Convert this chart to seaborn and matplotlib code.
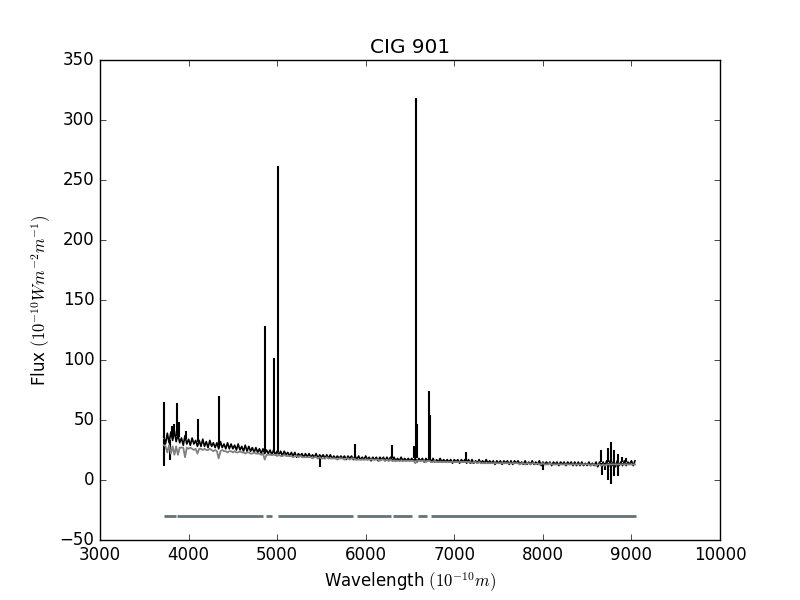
import matplotlib
matplotlib.use('Agg')

import matplotlib.pyplot as plt
import seaborn as sb
import numpy as np
import pandas as pd

# wavelength grid of the sampled spectrum (Angstrom, 20 A steps)
wave = list(range(3720, 9041, 20))

flux = [
    36, 30, 39, 31, 40, 33, 41, 32, 38, 31,
    35, 29, 37, 30, 34, 29, 35, 30, 33, 28,
    33, 28, 34, 28, 32, 27, 33, 28, 31, 27,
    31, 26, 32, 27, 30, 26, 31, 26, 30, 26,
    29, 25, 30, 25, 28, 24, 29, 24, 28, 24,
    27, 23, 27, 23, 26, 22, 26, 22, 25, 22,
    25, 21, 25, 21, 24, 21, 24, 20, 24, 21,
    23, 20, 23, 20, 23, 19, 22, 20, 22, 19,
    22, 19, 22, 19, 21, 19, 22, 18, 21, 19,
    21, 18, 21, 18, 21, 18, 20, 18, 20, 18,
    20, 18, 20, 17, 20, 18, 20, 17, 20, 17,
    20, 17, 19, 17, 20, 17, 19, 16, 19, 17,
    19, 16, 19, 17, 19, 16, 19, 16, 19, 16,
    19, 16, 18, 16, 19, 16, 18, 16, 18, 16,
    18, 16, 18, 15, 18, 16, 18, 15, 18, 16,
    18, 15, 18, 15, 17, 15, 18, 15, 17, 15,
    17, 15, 17, 14, 17, 15, 17, 14, 17, 15,
    17, 14, 17, 14, 17, 14, 16, 14, 17, 14,
    16, 14, 17, 14, 16, 14, 16, 13, 16, 14,
    16, 13, 16, 14, 16, 13, 16, 13, 16, 14,
    16, 13, 15, 13, 16, 13, 15, 13, 16, 13,
    15, 13, 16, 12, 15, 13, 15, 13, 15, 12,
    15, 13, 15, 12, 15, 13, 15, 12, 15, 13,
    15, 12, 15, 12, 15, 12, 15, 12, 14, 12,
    15, 12, 14, 12, 15, 11, 15, 12, 15, 11,
    16, 11, 16, 12, 16, 11, 16, 12, 15, 12,
    16, 12, 15, 13, 16, 12, 16,
]

# synthetic / model flux (gray)
model = [
    29, 28, 23, 29, 22, 28, 21, 28, 21, 27,
    27, 27, 19, 27, 26, 27, 26, 25, 26, 22,
    26, 26, 25, 26, 25, 25, 26, 25, 24, 25,
    24, 18, 24, 25, 24, 24, 23, 24, 24, 23,
    24, 23, 23, 24, 23, 23, 22, 23, 23, 22,
    22, 23, 22, 22, 22, 21, 22, 17, 21, 21,
    21, 21, 21, 21, 20, 21, 20, 20, 21, 20,
    20, 20, 20, 19, 20, 20, 19, 20, 19, 19,
    19, 19, 19, 19, 18, 19, 19, 18, 19, 18,
    18, 18, 19, 18, 18, 18, 18, 18, 17, 18,
    18, 18, 17, 18, 18, 17, 18, 18, 17, 17,
    17, 17, 17, 17, 17, 17, 17, 17, 17, 17,
    17, 17, 16, 17, 17, 16, 17, 16, 17, 16,
    16, 16, 16, 16, 16, 16, 16, 16, 16, 16,
    16, 16, 14, 16, 16, 16, 16, 16, 15, 16,
    16, 15, 15, 16, 15, 15, 15, 15, 15, 15,
    15, 15, 15, 15, 15, 15, 15, 15, 15, 15,
    15, 15, 15, 15, 14, 15, 15, 14, 15, 14,
    14, 14, 14, 14, 14, 14, 14, 14, 14, 14,
    14, 14, 14, 14, 14, 14, 14, 14, 14, 14,
    14, 13, 14, 14, 13, 14, 14, 13, 14, 14,
    13, 14, 13, 13, 14, 13, 13, 13, 14, 13,
    13, 13, 13, 13, 13, 13, 13, 13, 13, 13,
    13, 13, 13, 13, 13, 13, 13, 13, 13, 13,
    13, 12, 13, 13, 12, 13, 13, 12, 13, 12,
    13, 13, 13, 13, 13, 13, 13, 13, 13, 13,
    13, 13, 13, 13, 13, 13, 13,
]

# narrow features (emission lines, sky residuals): wavelength, base, tip
spike_wave = [3722, 3727, 3790, 3808, 3835, 3869, 3889, 3970, 4101, 4340,
              4861, 4959, 5007, 5483, 5876, 6300, 6548, 6563, 6584, 6717,
              6731, 7136, 8000, 8662, 8673, 8700, 8730, 8731, 8764, 8765,
              8801, 8802, 8843, 8850, 8895, 8944]
spike_base = [34, 35, 33, 37, 38, 37, 36, 34, 32, 29,
              24, 23, 23, 21, 20, 18, 18, 18, 18, 17,
              17, 16, 15, 15, 14, 14, 15, 14, 15, 14,
              15, 14, 15, 14, 15, 15]
spike_tip = [12, 65, 17, 45, 47, 64, 48, 41, 51, 70,
             128, 102, 262, 11, 30, 29, 28, 318, 47, 74,
             54, 23, 8, 25, 4, 8, 27, 0, 32, -3,
             25, 3, 22, 3, 19, 18]

# good-pixel mask segments drawn at -30
mask_start = [3722, 3873, 4870, 5012, 5900, 6307, 6593, 6736]
mask_end = [3854, 4843, 4937, 5859, 6280, 6528, 6697, 9050]
mask_level = -30

plt.style.use('classic')
plt.rcParams['figure.facecolor'] = 'white'
plt.rcParams['savefig.facecolor'] = 'white'

df = pd.DataFrame({'wave': wave, 'flux': flux, 'model': model})

fig, ax = plt.subplots(figsize=(8, 6))
sb.lineplot(data=df, x='wave', y='flux', color='black', lw=1.2, ax=ax)
ax.vlines(spike_wave, spike_base, spike_tip, color='black', lw=1.5)
sb.lineplot(data=df, x='wave', y='model', color='gray', lw=1.3, ax=ax)
ax.hlines([mask_level] * len(mask_start), mask_start, mask_end,
          color='#647474', lw=2)

ax.set_xlim(3000, 10000)
ax.set_ylim(-50, 350)
ax.set_title('CIG 901')
ax.set_xlabel(r'Wavelength $(10^{-10} m)$')
ax.set_ylabel(r'Flux $(10^{-10} W m^{-2} m^{-1})$')

fig.savefig('out.png', dpi=100)
